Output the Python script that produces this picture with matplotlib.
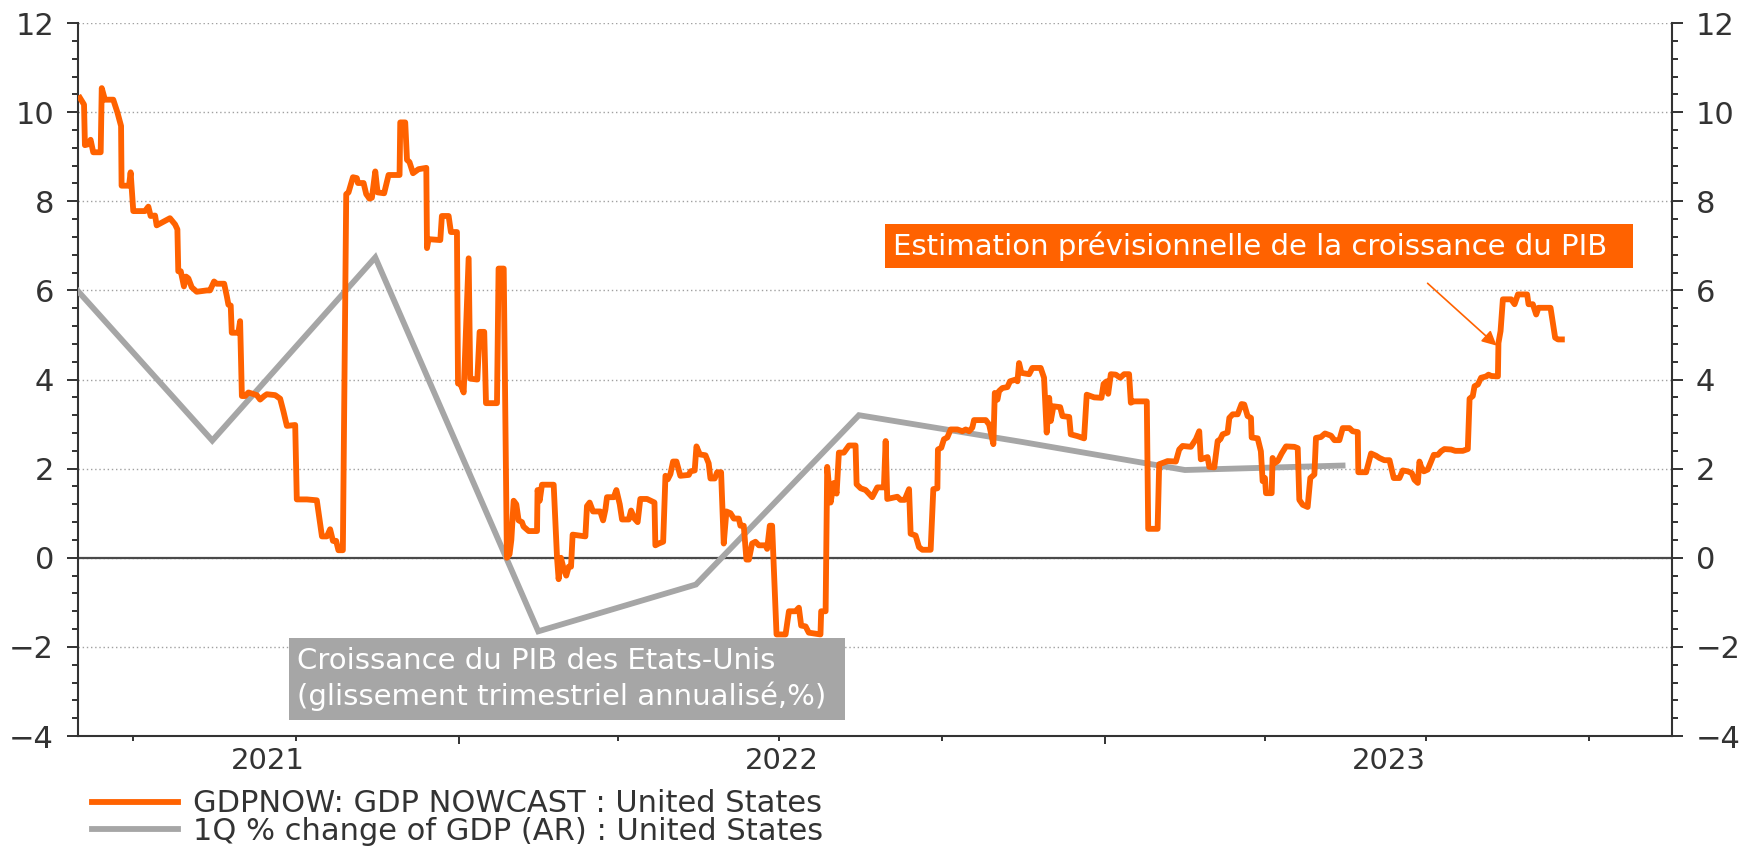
import pandas as pd
import matplotlib
matplotlib.use('Agg')
import matplotlib.pyplot as plt
import matplotlib.dates as mdates
from matplotlib.ticker import MultipleLocator, NullFormatter

plt.rcParams['font.family'] = ['DejaVu Sans']

start = pd.Timestamp('2021-05-31')
end = pd.Timestamp('2023-11-17')

# GDPNow nowcast: days after `start`, value in %
days_a = [1.3, 3.6, 4.1, 6.0, 7.3, 8.8, 13.0, 13.6, 15.4, 20.1,
          22.4, 24.5, 24.8, 29.0, 29.9, 31.4, 38.0, 39.9, 41.2, 43.7,
          44.6, 46.5, 52.1, 55.0, 56.3, 56.8, 58.2, 60.0, 61.2, 62.5,
          64.4, 67.2, 72.9, 74.7, 77.0, 78.5, 82.7, 84.2, 85.1, 86.4,
          87.0, 90.7, 91.7, 92.7, 94.5, 96.4, 101.1, 103.0, 105.3, 106.8,
          111.5, 114.3, 116.2, 118.1, 122.8, 123.7, 129.4, 135.0, 137.9, 140.7,
          142.5, 144.1, 145.9, 147.2, 149.7, 151.6, 152.9, 155.4, 157.6, 158.2,
          161.4, 162.9, 164.7, 166.1, 168.0, 169.3, 173.0, 175.5, 181.7, 182.1,
          184.9, 185.9, 187.3, 189.3, 192.4, 196.8, 197.2, 198.1, 204.7, 205.6,
          209.4, 210.7, 214.1, 214.7, 216.0, 217.9, 220.7, 221.6, 225.6, 226.9,
          229.5, 230.5, 236.7, 237.6, 240.5, 242.3]
vals_a = [10.32, 10.17, 9.26, 9.28, 9.38, 9.1, 9.1, 10.54, 10.28, 10.28,
          10.0, 9.69, 8.35, 8.35, 8.65, 7.78, 7.78, 7.88, 7.67, 7.68,
          7.46, 7.5, 7.62, 7.48, 7.37, 6.43, 6.43, 6.09, 6.31, 6.27,
          6.07, 5.97, 6.0, 6.0, 6.2, 6.15, 6.15, 5.87, 5.68, 5.66,
          5.05, 5.05, 5.31, 3.63, 3.63, 3.71, 3.65, 3.55, 3.63, 3.67,
          3.65, 3.57, 3.28, 2.96, 2.98, 1.31, 1.31, 1.29, 0.48, 0.48,
          0.64, 0.38, 0.38, 0.17, 0.17, 8.16, 8.2, 8.54, 8.52, 8.41,
          8.41, 8.16, 8.06, 8.08, 8.67, 8.2, 8.18, 8.59, 8.59, 9.77,
          9.77, 8.93, 8.88, 8.63, 8.72, 8.75, 6.95, 7.15, 7.13, 7.67,
          7.67, 7.31, 7.31, 3.91, 3.91, 3.71, 6.72, 4.02, 4.0, 5.07,
          5.07, 3.47, 3.47, 6.49, 6.49, 0.0]

days_b = [243.8, 244.8, 246.1, 247.6, 248.9, 250.8, 251.7, 254.6, 259.3, 259.6,
          260.8, 262.1, 268.7, 270.6, 271.5, 272.8, 274.3, 275.8, 277.2, 278.5,
          279.4, 286.6, 287.5, 289.0, 290.9, 295.0, 296.6, 297.9, 298.8, 302.6,
          304.1, 306.0, 307.3, 311.1, 312.4, 314.3, 316.1, 317.6, 321.4, 325.6,
          326.1, 328.0, 330.5, 331.8, 333.1, 334.6, 336.1, 338.0, 340.2, 345.0,
          345.9, 348.3, 349.3, 351.2, 354.4, 356.2, 357.2, 359.6, 361.0, 363.2,
          364.7, 366.2, 368.5, 370.4, 373.2, 374.1, 376.0, 377.5, 378.9, 380.7,
          382.6, 384.5, 388.3, 389.2, 390.7, 392.0, 394.5, 399.6, 401.5, 405.2,
          407.1, 408.4, 410.9, 412.7, 419.3, 419.7, 422.2, 423.1, 425.0, 426.9,
          428.4, 429.7, 432.5, 435.4, 439.1]
vals_b = [0.08, 0.4, 1.28, 1.2, 0.84, 0.8, 0.7, 0.6, 0.6, 1.52,
          1.28, 1.64, 1.64, 0.0, -0.48, 0.0, -0.24, -0.4, -0.2, -0.2,
          0.52, 0.48, 1.16, 1.24, 1.04, 1.04, 0.84, 1.08, 1.36, 1.36,
          1.52, 1.2, 0.86, 0.86, 1.06, 0.88, 0.8, 1.32, 1.32, 1.24,
          0.28, 0.32, 0.36, 1.84, 1.76, 1.88, 2.16, 2.16, 1.84, 1.86,
          1.94, 1.96, 2.5, 2.32, 2.3, 2.12, 1.78, 1.78, 1.92, 1.92,
          0.32, 1.04, 1.0, 0.88, 0.88, 0.72, 0.72, -0.04, -0.04, 0.32,
          0.36, 0.28, 0.28, 0.2, 0.72, 0.72, -1.72, -1.72, -1.2, -1.2,
          -1.12, -1.52, -1.54, -1.68, -1.72, -1.2, -1.2, 2.04, 1.24, 1.68,
          1.44, 2.36, 2.36, 2.52, 2.52]

days_c = [439.7, 442.0, 444.8, 448.5, 451.4, 455.1, 456.1, 457.0, 462.7, 464.5,
          466.8, 469.3, 470.2, 473.0, 474.9, 476.8, 481.5, 483.0, 485.3, 485.6,
          487.5, 489.0, 490.9, 492.8, 496.6, 499.4, 501.3, 503.2, 505.0, 506.0,
          512.6, 514.5, 516.9, 517.7, 519.2, 520.1, 522.0, 524.8, 526.3, 529.5,
          530.5, 531.4, 532.7, 537.1, 538.9, 543.6, 545.5, 547.0, 548.4, 549.3,
          550.8, 554.6, 555.9, 559.7, 560.6, 564.4, 568.1, 569.6, 573.8, 577.9,
          579.1, 580.9, 581.7, 583.2, 586.0, 588.5, 590.7, 593.5, 594.5, 596.0,
          603.5, 604.3, 609.6, 610.5, 613.3, 615.2, 619.9, 621.8, 623.7, 628.4,
          631.2, 633.1, 634.0, 636.3, 637.8, 638.8, 641.6, 643.5, 645.0, 646.3,
          649.1, 650.1, 652.0, 654.8, 657.0, 658.5, 660.4, 662.3]
vals_c = [1.65, 1.56, 1.52, 1.36, 1.58, 1.58, 2.62, 1.32, 1.37, 1.3,
          1.3, 1.54, 0.54, 0.5, 0.24, 0.18, 0.18, 1.54, 1.56, 2.43,
          2.47, 2.66, 2.7, 2.88, 2.88, 2.84, 2.88, 2.84, 2.92, 3.09,
          3.09, 2.99, 2.55, 3.7, 3.55, 3.74, 3.81, 3.83, 3.96, 4.0,
          3.96, 4.37, 4.15, 4.12, 4.26, 4.26, 4.04, 2.81, 3.59, 3.07,
          3.4, 3.38, 3.18, 3.16, 2.77, 2.73, 2.68, 3.66, 3.6, 3.59,
          3.9, 3.96, 3.68, 4.12, 4.11, 4.04, 4.12, 4.12, 3.48, 3.51,
          3.51, 0.65, 0.65, 2.1, 2.14, 2.17, 2.16, 2.43, 2.51, 2.49,
          2.66, 2.84, 2.21, 2.24, 2.26, 2.04, 2.03, 2.62, 2.66, 2.77,
          2.81, 3.14, 3.22, 3.22, 3.45, 3.44, 3.18, 3.14]

days_d = [662.7, 666.1, 667.9, 668.9, 670.2, 670.8, 674.0, 674.5, 675.9, 677.4,
          679.6, 682.1, 686.8, 688.7, 689.6, 691.5, 694.3, 695.8, 698.1, 699.0,
          701.8, 704.1, 707.5, 709.4, 712.2, 714.1, 717.9, 719.7, 722.6, 722.9,
          727.3, 730.1, 732.9, 734.8, 737.6, 740.5, 742.9, 746.1, 748.0, 750.8,
          753.1, 754.6, 756.5, 757.4, 758.3, 759.9, 762.1, 765.5, 767.8, 769.6,
          771.5, 775.3, 777.6, 781.9, 784.7, 785.7, 787.5, 788.5, 790.4, 792.2,
          795.1, 796.4, 797.9, 801.7, 802.0, 803.2, 804.5, 809.2, 811.1, 813.0,
          818.2, 819.0, 821.4, 823.3, 824.6, 831.4, 834.0, 835.6, 837.8]
vals_d = [2.7, 2.68, 2.39, 1.72, 1.79, 1.45, 1.45, 2.24, 2.13, 2.17,
          2.34, 2.5, 2.49, 2.46, 1.3, 1.19, 1.14, 1.79, 1.87, 2.69,
          2.71, 2.79, 2.74, 2.64, 2.64, 2.91, 2.91, 2.84, 2.82, 1.92,
          1.92, 2.34, 2.29, 2.24, 2.19, 2.19, 1.79, 1.79, 1.96, 1.94,
          1.9, 1.75, 1.68, 2.16, 2.05, 1.94, 1.98, 2.31, 2.31, 2.39,
          2.44, 2.43, 2.4, 2.4, 2.44, 3.57, 3.63, 3.85, 3.89, 4.04,
          4.07, 4.11, 4.08, 4.07, 4.82, 5.09, 5.8, 5.8, 5.69, 5.91,
          5.91, 5.69, 5.69, 5.46, 5.61, 5.61, 4.94, 4.9, 4.9]

# quarterly GDP growth (annualised), plotted mid-quarter
gdp_dates = ['2021-05-15', '2021-08-15', '2021-11-15', '2022-02-15', '2022-05-15',
             '2022-08-15', '2022-11-15', '2023-02-15', '2023-05-15']
gdp_vals = [6.7, 2.63, 6.74, -1.65, -0.6, 3.2, 2.6, 1.97, 2.07]

year_labels = ['2021', '2022', '2023']
now_label = 'GDPNOW: GDP NOWCAST : United States'
gdp_label = '1Q % change of GDP (AR) : United States'

orange = '#FF6200'
grey = '#A6A6A6'
dark = '#333333'

now_days = days_a + days_b + days_c + days_d
now_vals = vals_a + vals_b + vals_c + vals_d
now_x = start + pd.to_timedelta(now_days, unit='D')

fig = plt.figure(figsize=(17.45, 8.47), dpi=100)
ax = fig.add_axes([0.0445, 0.131, 0.9137, 0.8418])

l_gdp, = ax.plot(pd.to_datetime(gdp_dates), gdp_vals, color=grey, lw=4.2,
                 solid_joinstyle='miter', zorder=3, label=gdp_label)
l_now, = ax.plot(now_x, now_vals, color=orange, lw=4.2,
                 solid_joinstyle='round', zorder=4, label=now_label)

ax.set_xlim(start, end)
ax.set_ylim(-4, 12)

ax.yaxis.set_major_locator(MultipleLocator(2))
ax.yaxis.set_minor_locator(MultipleLocator(0.4))
ax.grid(axis='y', which='major', color='#a0a0a0', linestyle=(0, (1, 2)), lw=1)
ax.axhline(0, color='#4a4a4a', lw=1.6, zorder=2)

ax.xaxis.set_major_locator(mdates.YearLocator())
ax.xaxis.set_major_formatter(NullFormatter())
ax.xaxis.set_minor_locator(mdates.MonthLocator(bymonth=[1, 4, 7, 10]))
ax.tick_params(axis='x', which='major', length=6, width=1.4, color=dark)
ax.tick_params(axis='x', which='minor', length=3.6, width=1.4, color=dark)

ax.tick_params(axis='y', which='major', length=8, width=1.4, color=dark,
               left=True, right=True, labelleft=True, labelright=True,
               labelsize=22, labelcolor=dark, pad=9)
ax.tick_params(axis='y', which='minor', length=4.3, width=1.4, color=dark,
               left=True, right=True)

for s in ['left', 'right', 'bottom']:
    ax.spines[s].set_color(dark)
    ax.spines[s].set_linewidth(1.5)
ax.spines['top'].set_visible(False)

# year labels centred on the visible part of each year
centers = []
for y in year_labels:
    lo = max(pd.Timestamp(y + '-01-01'), start)
    hi = min(pd.Timestamp(str(int(y) + 1) + '-01-01'), end)
    centers.append(lo + (hi - lo) / 2)
sec = ax.secondary_xaxis('bottom')
sec.set_xticks(mdates.date2num(centers), year_labels)
sec.tick_params(length=0, pad=8, labelsize=21, labelcolor=dark)
sec.spines['bottom'].set_visible(False)

ax.text(pd.Timestamp('2022-09-03'), 7.0,
        'Estimation prévisionnelle de la croissance du PIB  ',
        color='white', fontsize=21, va='center', ha='left', zorder=6,
        bbox=dict(boxstyle='square,pad=0.25', fc=orange, ec='none'))
ax.annotate('', xy=(pd.Timestamp('2023-08-10'), 4.76),
            xytext=(pd.Timestamp('2023-07-02'), 6.16),
            arrowprops=dict(arrowstyle='-|>', color=orange, lw=1.2,
                            mutation_scale=22, shrinkA=0, shrinkB=0), zorder=6)
ax.text(pd.Timestamp('2021-10-02'), -2.0,
        'Croissance du PIB des Etats-Unis\n(glissement trimestriel annualisé,%) ',
        color='white', fontsize=21, va='top', ha='left', linespacing=1.3, zorder=6,
        bbox=dict(boxstyle='square,pad=0.3', fc=grey, ec='none'))

fig.legend([l_now, l_gdp], [now_label, gdp_label], loc='upper left',
           bbox_to_anchor=(0.053, 0.068), frameon=False, fontsize=22,
           handlelength=2.8, handletextpad=0.5, labelspacing=-0.05,
           borderpad=0, borderaxespad=0, labelcolor=dark)

fig.savefig('out.png', dpi=100)
